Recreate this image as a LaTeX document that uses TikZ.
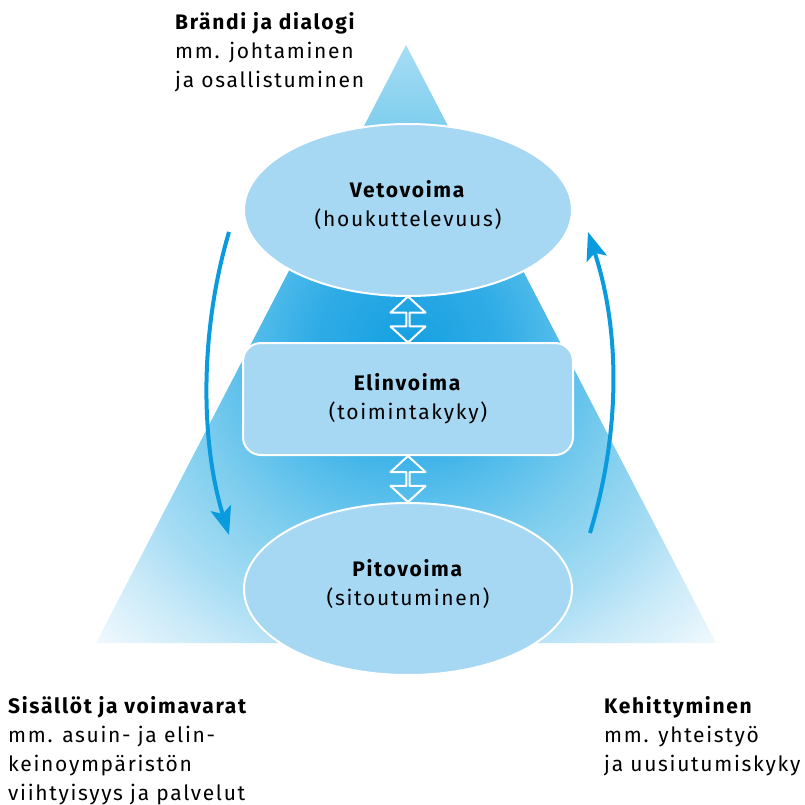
\documentclass[tikz,border=0pt]{standalone}
\usepackage{fontspec}
\setmainfont{Fira Sans}[LetterSpace=8]
\usetikzlibrary{shapes.geometric,shapes.arrows,arrows.meta,positioning}
\definecolor{ellfill}{HTML}{A6D8F4}
\definecolor{arrowblue}{HTML}{0A9BDF}
\definecolor{pyrA}{HTML}{16A0E1}
\definecolor{pyrB}{HTML}{30ACE6}
\definecolor{pyrC}{HTML}{55BDEB}
\definecolor{pyrD}{HTML}{7DCDEE}
\definecolor{pyrE}{HTML}{A8DDF4}
\definecolor{pyrF}{HTML}{C8E9F8}
\definecolor{pyrG}{HTML}{F5FBFE}
\pgfdeclareradialshading{pyramid}{\pgfpoint{0bp}{0bp}}{%
  color(0bp)=(pyrA); color(7.5bp)=(pyrB); color(12.5bp)=(pyrC);
  color(18bp)=(pyrD); color(25bp)=(pyrE); color(29bp)=(pyrF);
  color(36bp)=(pyrG); color(50bp)=(pyrG)}
\tikzset{
  every picture/.style={
    font=\fontsize{21}{29}\selectfont,
    line join=round,
  },
  ellnode/.style={ellipse, draw=white, line width=2pt, fill=ellfill,
    minimum width=328pt, minimum height=172pt, inner sep=0pt, align=center,
    text depth=14pt},
  boxnode/.style={rectangle, rounded corners=18pt, draw=white, line width=2pt,
    fill=ellfill, minimum width=330pt, minimum height=112pt, align=center},
  dblarrow/.style={double arrow, draw=white, line width=2pt, rotate=90,
    minimum height=46pt, minimum width=35pt, double arrow head extend=10pt,
    double arrow tip angle=95, inner sep=0pt},
  cyclearrow/.style={arrowblue, line width=4pt,
    -{Stealth[length=28pt,width=21pt,inset=6pt]}},
  sidetext/.style={align=left, anchor=base west, inner sep=0pt},
}
\begin{document}
\begin{tikzpicture}[x=1pt,y=-1pt]
\useasboundingbox (0,0) rectangle (805,805);
% pyramid in the background
\shade[shading=pyramid] (406,45) -- (96,643) -- (716,643) -- cycle;
% the three levels
\node[ellnode] (veto) at (408,210) {\textbf{Vetovoima}\\(houkuttelevuus)};
\node[boxnode] (elin) at (408,399) {\textbf{Elinvoima}\\(toimintakyky)};
\node[ellnode] (pito) at (408,589) {\textbf{Pitovoima}\\(sitoutuminen)};
\path (veto.south) -- node[dblarrow] (a1) {} (elin.north);
\path (elin.south) -- node[dblarrow] (a2) {} (pito.north);
% cycle arrows
\coordinate (l0) at (229,232);
\coordinate (l1) at (229,535);
\coordinate (r0) at (590,533);
\coordinate (r1) at (588,232);
\draw[cyclearrow] (l0) .. controls (200,330) and (200,440) .. (l1);
\draw[cyclearrow] (r0) .. controls (621,430) and (620,330) .. (r1);
% texts (anchored at the last baseline)
\node[sidetext] (brandi) at (175,88) {\textbf{Brändi ja dialogi}\\mm. johtaminen\\ja osallistuminen};
\node[sidetext] (sisallot) at (8,800) {\textbf{Sisällöt ja voimavarat}\\mm. asuin- ja elin-\\keinoympäristön\\viihtyisyys ja palvelut};
\node[sidetext] (kehitys) at (604,771) {\textbf{Kehittyminen}\\mm. yhteistyö\\ja uusiutumiskyky};
\end{tikzpicture}
\end{document}
